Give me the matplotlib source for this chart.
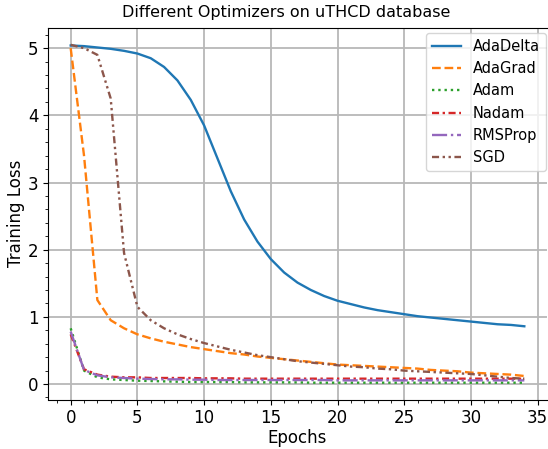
import numpy as np
import matplotlib
matplotlib.use('Agg')
import matplotlib.pyplot as plt
from matplotlib.ticker import MultipleLocator

epochs = list(range(35))

adadelta = [5.04, 5.03, 5.01, 4.99, 4.96, 4.92, 4.85, 4.72, 4.52, 4.23,
            3.85, 3.36, 2.87, 2.45, 2.12, 1.86, 1.66, 1.51, 1.40, 1.31,
            1.24, 1.19, 1.14, 1.10, 1.07, 1.04, 1.01, 0.99, 0.97, 0.95,
            0.93, 0.91, 0.89, 0.88, 0.86]
adagrad = [5.00, 3.40, 1.25, 0.95, 0.83, 0.74, 0.68, 0.63, 0.59, 0.55,
           0.52, 0.49, 0.46, 0.44, 0.41, 0.39, 0.37, 0.35, 0.33, 0.31,
           0.29, 0.28, 0.27, 0.26, 0.25, 0.24, 0.23, 0.21, 0.20, 0.19,
           0.17, 0.16, 0.15, 0.14, 0.12]
adam = [0.83, 0.20, 0.10, 0.07, 0.06, 0.05, 0.045, 0.04, 0.035, 0.03,
        0.03, 0.03, 0.03, 0.025, 0.025, 0.025, 0.025, 0.025, 0.02, 0.02,
        0.02, 0.02, 0.02, 0.02, 0.02, 0.02, 0.02, 0.02, 0.02, 0.02,
        0.02, 0.02, 0.02, 0.02, 0.02]
nadam = [0.74, 0.22, 0.14, 0.11, 0.10, 0.10, 0.09, 0.09, 0.09, 0.09,
         0.085, 0.085, 0.085, 0.08, 0.08, 0.08, 0.08, 0.08, 0.08, 0.08,
         0.08, 0.08, 0.08, 0.08, 0.08, 0.08, 0.08, 0.08, 0.08, 0.08,
         0.08, 0.08, 0.08, 0.08, 0.08]
rmsprop = [0.78, 0.21, 0.13, 0.10, 0.09, 0.08, 0.075, 0.07, 0.07, 0.065,
           0.065, 0.06, 0.06, 0.06, 0.06, 0.06, 0.06, 0.06, 0.06, 0.06,
           0.055, 0.055, 0.055, 0.055, 0.055, 0.055, 0.055, 0.055, 0.055, 0.055,
           0.055, 0.055, 0.055, 0.055, 0.055]
sgd = [5.05, 5.00, 4.90, 4.25, 1.95, 1.15, 0.95, 0.83, 0.74, 0.67,
       0.61, 0.56, 0.51, 0.47, 0.43, 0.40, 0.37, 0.34, 0.32, 0.30,
       0.28, 0.26, 0.25, 0.23, 0.22, 0.20, 0.19, 0.18, 0.17, 0.16,
       0.15, 0.13, 0.11, 0.09, 0.08]

names = ['AdaDelta', 'AdaGrad', 'Adam', 'Nadam', 'RMSProp', 'SGD']
series = [adadelta, adagrad, adam, nadam, rmsprop, sgd]
styles = ['-', '--', ':', (0, (3, 1.5, 1, 1.5)), '-.', (0, (3, 1.5, 1, 1.5, 1, 1.5))]

fig = plt.figure(figsize=(5.48, 4.49), dpi=100)
ax = fig.add_axes([48 / 548, 1 - 399.5 / 449, 499 / 548, 371.5 / 449])

for name, vals, ls in zip(names, series, styles):
    ax.plot(epochs, vals, linestyle=ls, linewidth=1.7, label=name)

ax.set_xlim(-1.7, 35.7)
ax.set_ylim(-0.23, 5.3)
ax.xaxis.set_major_locator(MultipleLocator(5))
ax.xaxis.set_minor_locator(MultipleLocator(1))
ax.yaxis.set_major_locator(MultipleLocator(1))
ax.yaxis.set_minor_locator(MultipleLocator(0.2))
ax.grid(True, which='major', color='0.72', linewidth=1.3)
ax.spines['right'].set_visible(False)
ax.tick_params(labelsize=12)
ax.set_xlabel('Epochs', fontsize=12, labelpad=1)
ax.set_ylabel('Training Loss', fontsize=12, labelpad=2)
fig.text(286 / 548, 1 - 13 / 449, 'Different Optimizers on uTHCD database',
         fontsize=11.5, ha='center', va='center')

ax.legend(loc='upper right', bbox_to_anchor=(546 / 548, 1 - 33 / 449),
          bbox_transform=fig.transFigure, borderaxespad=0,
          fontsize=10.5, framealpha=0.8)

fig.savefig('out.png', dpi=100)
